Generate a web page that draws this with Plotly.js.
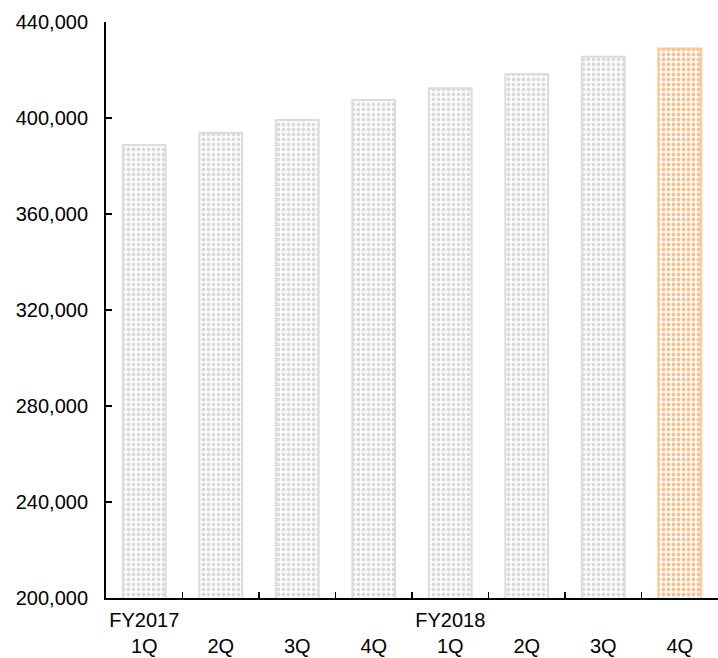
<!DOCTYPE html>
<html>
<head>
<meta charset="utf-8">
<script src="https://cdn.plot.ly/plotly-3.0.1.min.js"></script>
<style>html,body{margin:0;padding:0;background:#fff;}#chart{width:718px;height:658px;}</style>
</head>
<body>
<div id="chart"></div>
<script>
var categories = ["FY2017 1Q","FY2017 2Q","FY2017 3Q","FY2017 4Q","FY2018 1Q","FY2018 2Q","FY2018 3Q","FY2018 4Q"];
var tickLabels = ["FY2017<br>1Q"," <br>2Q"," <br>3Q"," <br>4Q","FY2018<br>1Q"," <br>2Q"," <br>3Q"," <br>4Q"];
var values = [388750, 393900, 399200, 407500, 412400, 418300, 425500, 429000];
var yTicks = [200000, 240000, 280000, 320000, 360000, 400000, 440000];

var fg = values.map(function(v,i){ return i === values.length-1 ? "#fdbf88" : "#dadada"; });
var border = values.map(function(v,i){ return i === values.length-1 ? "#fcc898" : "#dcdcdc"; });

var trace = {
  type: "bar",
  x: categories,
  y: values,
  width: 0.56,
  marker: {
    color: "#ffffff",
    line: {color: border, width: 2},
    pattern: {shape: ".", fgcolor: fg, bgcolor: "#ffffff", size: 5, solidity: 0.45, fillmode: "replace"}
  },
  hoverinfo: "none"
};

var layout = {
  width: 718, height: 658,
  margin: {l: 106, r: 0, t: 22, b: 60},
  paper_bgcolor: "#ffffff", plot_bgcolor: "#ffffff",
  font: {family: "Liberation Sans, Arial, sans-serif", size: 20, color: "#000000"},
  showlegend: false,
  xaxis: {
    type: "category",
    tickmode: "array", tickvals: categories, ticktext: tickLabels,
    tickangle: 0,
    automargin: false,
    showline: true, linecolor: "#000000", linewidth: 2,
    ticks: "inside", tickson: "boundaries", ticklen: 6, tickwidth: 1.5, tickcolor: "#000000",
    ticklabelstandoff: 3,
    showgrid: false, zeroline: false,
    tickfont: {size: 20}
  },
  yaxis: {
    range: [200000, 440000],
    tickmode: "array", tickvals: yTicks,
    tickformat: ",",
    automargin: false,
    showline: true, linecolor: "#000000", linewidth: 2,
    ticks: "inside", ticklen: 6, tickwidth: 1.5, tickcolor: "#000000",
    ticklabelstandoff: 12,
    showgrid: false, zeroline: false,
    tickfont: {size: 20}
  }
};

Plotly.newPlot("chart", [trace], layout, {displayModeBar: false, staticPlot: true});
</script>
</body>
</html>
